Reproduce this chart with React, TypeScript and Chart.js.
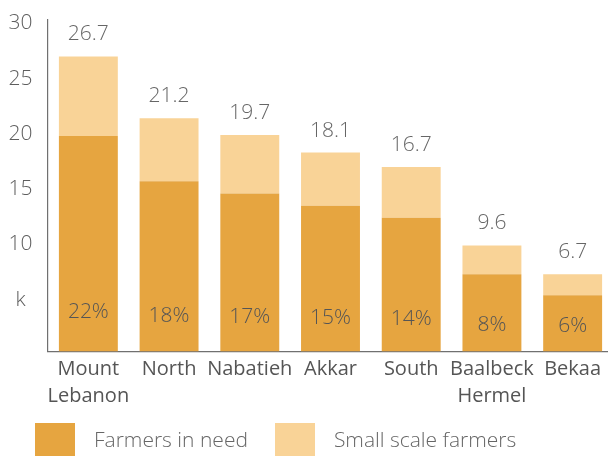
import React, { useEffect, useRef } from 'react';
import { Chart, registerables } from 'chart.js';

Chart.register(...registerables);

const categories: (string | string[])[] = [
  ['Mount', 'Lebanon'],
  'North',
  'Nabatieh',
  'Akkar',
  'South',
  ['Baalbeck', 'Hermel'],
  'Bekaa',
];
const farmersInNeed = [19.5, 15.4, 14.3, 13.2, 12.1, 7.0, 5.1];
const smallScaleFarmers = [7.2, 5.7, 5.3, 4.8, 4.6, 2.6, 1.9];
const totalLabels = ['26.7', '21.2', '19.7', '18.1', '16.7', '9.6', '6.7'];
const shareLabels = ['22%', '18%', '17%', '15%', '14%', '8%', '6%'];
const yTickValues = [0, 5, 10, 15, 20, 25, 30];
const yTickLabels = ['', 'k', '10', '15', '20', '25', '30'];
const seriesNames = ['Farmers in need', 'Small scale farmers'];
const seriesColors = ['#E6A540', '#F9D397'];

const FONT = "'Open Sans', 'DejaVu Sans', sans-serif";

function makeSwatch(color: string): HTMLCanvasElement {
  const c = document.createElement('canvas');
  c.width = 40;
  c.height = 38;
  const g = c.getContext('2d')!;
  g.fillStyle = color;
  g.fillRect(0, 0, 40, 38);
  return c;
}

const labelPlugin = {
  id: 'barLabels',
  afterDatasetsDraw(chart: any) {
    const ctx = chart.ctx as CanvasRenderingContext2D;
    const dark = chart.getDatasetMeta(0).data;
    const light = chart.getDatasetMeta(1).data;
    ctx.save();
    ctx.textAlign = 'center';
    ctx.textBaseline = 'middle';
    ctx.font = `300 21px ${FONT}`;
    ctx.fillStyle = '#666666';
    light.forEach((el: any, i: number) => {
      ctx.fillText(totalLabels[i], el.x, el.y - 22);
    });
    ctx.fillStyle = '#555555';
    dark.forEach((el: any, i: number) => {
      const h = el.base - el.y;
      ctx.fillText(shareLabels[i], el.x, el.base - (20 + 0.09 * h));
    });
    ctx.restore();
  },
};

export default function App() {
  const ref = useRef<HTMLCanvasElement | null>(null);

  useEffect(() => {
    if (!ref.current) return;
    const swatches = seriesColors.map(makeSwatch);
    const chart = new Chart(ref.current, {
      type: 'bar',
      data: {
        labels: categories,
        datasets: [
          {
            label: seriesNames[0],
            data: farmersInNeed,
            backgroundColor: seriesColors[0],
            borderWidth: 0,
          },
          {
            label: seriesNames[1],
            data: smallScaleFarmers,
            backgroundColor: seriesColors[1],
            borderWidth: 0,
          },
        ],
      },
      options: {
        responsive: false,
        animation: false,
        events: [],
        datasets: {
          bar: { categoryPercentage: 1, barPercentage: 0.73 },
        },
        layout: { padding: { left: 8, top: 20, right: 0, bottom: 0 } },
        scales: {
          x: {
            stacked: true,
            grid: { display: false, drawTicks: false },
            border: { display: true, color: '#707070', width: 1.2 },
            ticks: {
              color: '#555555',
              padding: 4.5,
              font: { family: FONT, size: 20, weight: 'normal', lineHeight: 1.35 },
              maxRotation: 0,
              autoSkip: false,
            },
            afterFit: (s: any) => {
              s.height = 61;
              s.paddingLeft = 0;
              s.paddingRight = 0;
            },
          },
          y: {
            stacked: true,
            min: 0,
            max: 30,
            grid: { display: false, drawTicks: false },
            border: { display: true, color: '#707070', width: 1.2 },
            afterBuildTicks: (s: any) => {
              s.ticks = yTickValues.map((v) => ({ value: v }));
            },
            ticks: {
              color: '#5e5e5e',
              padding: 15.5,
              labelOffset: 3.5,
              crossAlign: 'center',
              font: { family: FONT, size: 21, weight: 300 },
              callback: (v: any) => {
                const idx = yTickValues.indexOf(Number(v));
                return idx >= 0 ? yTickLabels[idx] : '';
              },
            },
            afterFit: (s: any) => {
              s.width = 40;
              s.paddingTop = 0;
              s.paddingBottom = 0;
            },
          },
        },
        plugins: {
          tooltip: { enabled: false },
          legend: {
            display: true,
            position: 'bottom',
            align: 'start',
            labels: {
              usePointStyle: true,
              pointStyleWidth: 57,
              padding: 18.5,
              color: '#666666',
              font: { family: FONT, size: 21, weight: 300 },
              generateLabels: (c: any) => {
                const items = (Chart.defaults.plugins.legend.labels as any).generateLabels(c);
                return items.map((it: any, i: number) => ({
                  ...it,
                  pointStyle: swatches[i],
                  lineWidth: 0,
                }));
              },
            },
          },
        },
      } as any,
      plugins: [labelPlugin],
    });
    return () => chart.destroy();
  }, []);

  return (
    <div
      style={{
        position: 'fixed',
        left: 0,
        top: 0,
        width: 608,
        height: 456,
        overflow: 'hidden',
        background: '#ffffff',
      }}
    >
      <canvas
        ref={ref}
        width={613}
        height={462}
        style={{ position: 'absolute', left: 0, top: 0, width: 613, height: 462 }}
      />
    </div>
  );
}
